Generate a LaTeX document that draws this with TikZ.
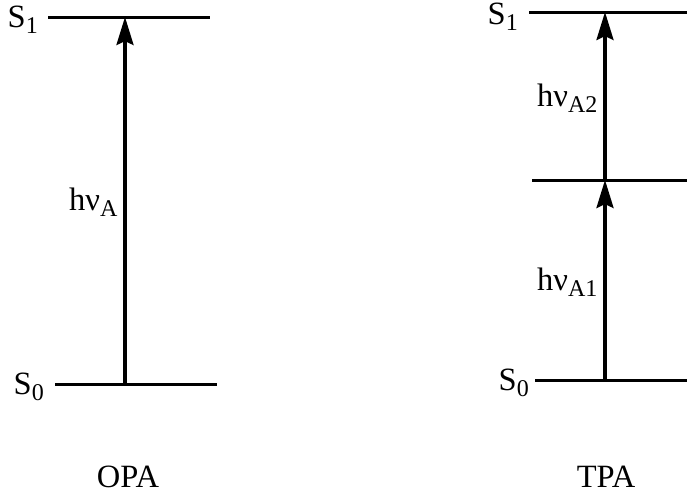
\documentclass[tikz,border=0pt]{standalone}
\usepackage{fontspec}
\setmainfont{Liberation Serif}
\usepackage{tikz}
\usetikzlibrary{arrows.meta,positioning}
\newcommand{\lowsub}[1]{\raisebox{-6pt}{\fontsize{24}{24}\selectfont #1}}
\tikzset{
  level/.style={line width=3pt,draw=black},
  photon/.style={-{Stealth[length=28pt,width=17pt,inset=4pt]},line width=3.3pt,draw=black},
  statelabel/.style={inner sep=0pt,anchor=base east},
  photonlabel/.style={inner sep=0pt,anchor=base east,midway,xshift=-6pt,yshift=-10pt},
  caption/.style={inner sep=0pt,anchor=base}
}

\begin{document}
\begin{tikzpicture}[x=1pt,y=-1pt,font=\fontsize{32.5}{36}\selectfont]
  \useasboundingbox (0,0) rectangle (687,499);
  % one-photon absorption
  \coordinate (opa-s1-l) at (48,17);
  \coordinate (opa-s1-r) at (210,17);
  \coordinate (opa-s0-l) at (55,384);
  \coordinate (opa-s0-r) at (217,384);
  \coordinate (opa-g) at (125,384);
  \coordinate (opa-e) at (125,17);
  \draw[level] (opa-s1-l) -- (opa-s1-r);
  \draw[level] (opa-s0-l) -- (opa-s0-r);
  \node[statelabel] (opa-s1) at ([xshift=-10pt,yshift=-10pt]opa-s1-l) {S\lowsub{1}};
  \node[statelabel] (opa-s0) at ([xshift=-11pt,yshift=-10pt]opa-s0-l) {S\lowsub{0}};
  \draw[photon] (opa-g) -- node[photonlabel] (opa-hv) {hν\lowsub{A}} (opa-e);
  \node[caption] (opa) at (128,487) {OPA};
  % two-photon absorption
  \coordinate (tpa-s1-l) at (529,12);
  \coordinate (tpa-s1-r) at (687,12);
  \coordinate (tpa-v-l) at (532,180);
  \coordinate (tpa-v-r) at (687,180);
  \coordinate (tpa-s0-l) at (535,380);
  \coordinate (tpa-s0-r) at (687,380);
  \coordinate (tpa-g) at (605,380);
  \coordinate (tpa-v) at (605,180);
  \coordinate (tpa-e) at (605,12);
  \draw[level] (tpa-s1-l) -- (tpa-s1-r);
  \draw[level] (tpa-v-l) -- (tpa-v-r);
  \draw[level] (tpa-s0-l) -- (tpa-s0-r);
  \node[statelabel] (tpa-s1) at ([xshift=-11pt,yshift=-12pt]tpa-s1-l) {S\lowsub{1}};
  \node[statelabel] (tpa-s0) at ([xshift=-6pt,yshift=-10pt]tpa-s0-l) {S\lowsub{0}};
  \draw[photon] (tpa-g) -- node[photonlabel] (tpa-hv1) {hν\lowsub{A1}} (tpa-v);
  \draw[photon] (tpa-v) -- node[photonlabel] (tpa-hv2) {hν\lowsub{A2}} (tpa-e);
  \node[caption] (tpa) at (606,487) {TPA};
\end{tikzpicture}
\end{document}
